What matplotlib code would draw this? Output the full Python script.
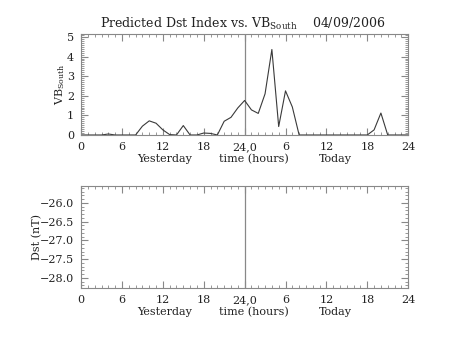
import numpy as np
import matplotlib
matplotlib.use("Agg")
import matplotlib.pyplot as plt
from matplotlib.ticker import MultipleLocator
import matplotlib.transforms as mtransforms

plt.rcParams["font.family"] = "DejaVu Serif"
plt.rcParams["mathtext.fontset"] = "custom"
plt.rcParams["mathtext.rm"] = "DejaVu Serif"
plt.rcParams["mathtext.it"] = "DejaVu Serif"

# hourly VB south, yesterday 00h through today 24h
hours = np.arange(49)
vb_south = [0, 0, 0, 0, 0.05, 0, 0, 0, 0, 0.45,
            0.72, 0.6, 0.26, 0.02, 0, 0.48, 0, 0, 0.1, 0.08,
            0, 0.7, 0.9, 1.38, 1.76, 1.28, 1.1, 2.1, 4.36, 0.43,
            2.25, 1.43, 0, 0, 0, 0, 0, 0, 0, 0,
            0, 0, 0, 0.26, 1.12, 0, 0, 0, 0]
xticks = [0, 6, 12, 18, 24, 30, 36, 42, 48]
xticklabels = ["0", "6", "12", "18", "24,0", "6", "12", "18", "24"]
day_labels = ["Yesterday", "time (hours)", "Today"]
day_label_x = [12.3, 25.3, 37.3]
dst_ticks = [-26.0, -26.5, -27.0, -27.5, -28.0]

spine_col = "#888888"
line_col = "#3a3a3a"
text_col = "#222222"

fig = plt.figure(figsize=(4.53, 3.4), dpi=100)
ax1 = fig.add_axes([0.179, 0.603, 0.722, 0.297])
ax2 = fig.add_axes([0.179, 0.153, 0.722, 0.300])


def style(ax):
    ax.set_xlim(0, 48)
    ax.set_xticks(xticks)
    ax.set_xticklabels(xticklabels)
    ax.xaxis.set_minor_locator(MultipleLocator(1))
    ax.tick_params(which="both", direction="in", top=True, right=True,
                   colors=spine_col, labelcolor=text_col, labelsize=8)
    ax.tick_params(which="major", length=5, width=0.8)
    ax.tick_params(which="minor", length=2.5, width=0.6)
    ax.tick_params(axis="x", pad=5)
    ax.tick_params(axis="y", pad=5)
    for s in ax.spines.values():
        s.set_color(spine_col)
        s.set_linewidth(0.8)
    ax.axvline(24, color=spine_col, lw=0.9)
    trans = mtransforms.blended_transform_factory(ax.transData, ax.transAxes)
    for lab, x in zip(day_labels, day_label_x):
        ax.text(x, -0.19, lab, transform=trans, ha="center", va="top",
                fontsize=8, color=text_col)


style(ax1)
ax1.plot(hours, vb_south, color=line_col, lw=0.8)
ax1.set_ylim(0, 5.15)
ax1.set_yticks([0, 1, 2, 3, 4, 5])
ax1.yaxis.set_minor_locator(MultipleLocator(0.1))
ax1.set_ylabel(r"VB$_{\mathrm{South}}$", fontsize=8, color=text_col, labelpad=0)

style(ax2)
ax2.set_ylim(-28.27, -25.55)
ax2.set_yticks(dst_ticks)
ax2.set_yticklabels(["\u2212%.1f" % abs(v) for v in dst_ticks])
ax2.yaxis.set_minor_locator(MultipleLocator(0.1))
ax2.set_ylabel("Dst (nT)", fontsize=8, color=text_col, labelpad=-1.5)

fig.text(0.536, 0.918, r"Predicted Dst Index vs. VB$_{\mathrm{South}}$    04/09/2006",
         ha="center", va="baseline", fontsize=9, color=text_col)

fig.savefig("out.png", dpi=100)
